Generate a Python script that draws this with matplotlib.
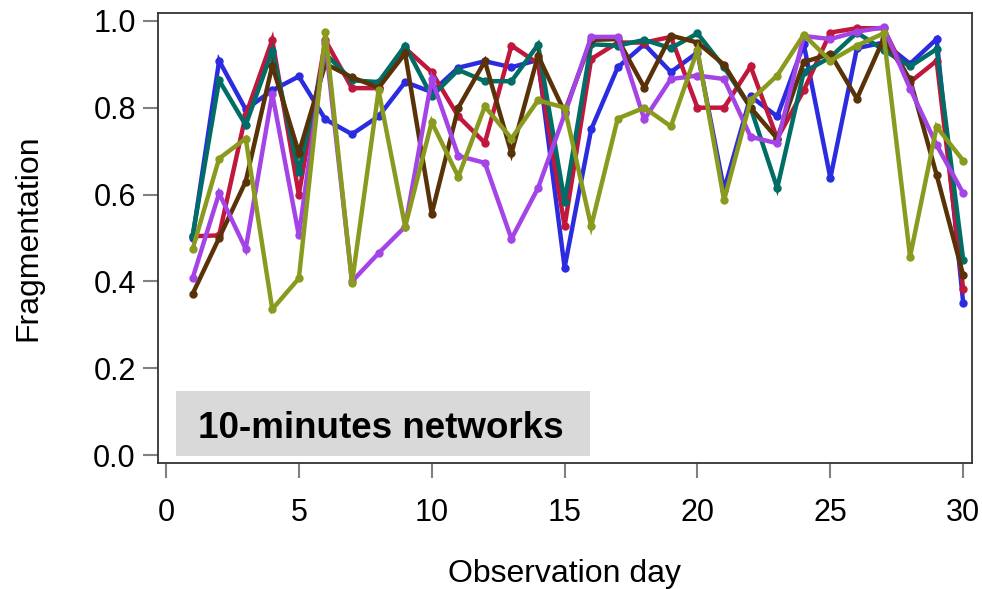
import numpy as np
import matplotlib.pyplot as plt
from matplotlib.patches import Rectangle

plt.rcParams['font.family'] = ['Liberation Sans', 'DejaVu Sans']

days = np.arange(1, 31)

# fragmentation per observation day, one list per network
blue = [0.50, 0.908, 0.796, 0.840, 0.872, 0.773, 0.739, 0.780, 0.859, 0.836,
        0.892, 0.907, 0.893, 0.910, 0.432, 0.750, 0.893, 0.946, 0.882, 0.927,
        0.611, 0.826, 0.780, 0.946, 0.638, 0.937, 0.950, 0.901, 0.958, 0.350]
red = [0.504, 0.506, 0.783, 0.956, 0.600, 0.955, 0.845, 0.845, 0.937, 0.882,
       0.780, 0.719, 0.943, 0.902, 0.527, 0.912, 0.950, 0.950, 0.963, 0.800,
       0.800, 0.895, 0.729, 0.840, 0.973, 0.983, 0.983, 0.859, 0.908, 0.382]
teal = [0.504, 0.863, 0.760, 0.931, 0.653, 0.924, 0.863, 0.859, 0.943, 0.826,
        0.887, 0.861, 0.861, 0.945, 0.584, 0.946, 0.943, 0.956, 0.937, 0.971,
        0.893, 0.800, 0.615, 0.882, 0.916, 0.973, 0.933, 0.895, 0.935, 0.449]
brown = [0.371, 0.500, 0.630, 0.897, 0.696, 0.901, 0.870, 0.846, 0.925, 0.556,
         0.800, 0.907, 0.695, 0.920, 0.790, 0.956, 0.958, 0.846, 0.966, 0.950,
         0.899, 0.800, 0.729, 0.905, 0.924, 0.821, 0.958, 0.865, 0.645, 0.414]
purple = [0.407, 0.603, 0.475, 0.832, 0.506, 0.950, 0.400, 0.465, 0.526, 0.866,
          0.689, 0.673, 0.498, 0.615, 0.785, 0.963, 0.963, 0.773, 0.866, 0.874,
          0.866, 0.733, 0.718, 0.965, 0.958, 0.975, 0.985, 0.844, 0.714, 0.603]
olive = [0.474, 0.683, 0.729, 0.336, 0.407, 0.975, 0.397, 0.840, 0.526, 0.767,
         0.641, 0.803, 0.729, 0.817, 0.800, 0.527, 0.775, 0.800, 0.757, 0.933,
         0.587, 0.817, 0.874, 0.968, 0.908, 0.943, 0.971, 0.457, 0.756, 0.678]

series = [blue, red, teal, brown, purple, olive]
colors = ['#2b2be0', '#c0173c', '#006d66', '#5a3208', '#a444e6', '#8a9a1e']

fig = plt.figure(figsize=(9.82, 5.89), dpi=100)
ax = fig.add_axes([158/982, 1 - 463/589, 814/982, 450/589])

for vals, c in zip(series, colors):
    ax.plot(days, vals, color=c, lw=3.2, marker='o', ms=5,
            solid_joinstyle='miter', solid_capstyle='butt')

ax.set_xlim(-0.3, 30.33)
ax.set_ylim(-0.018, 1.018)
ax.set_xticks([0, 5, 10, 15, 20, 25, 30])
ax.set_yticks([0.0, 0.2, 0.4, 0.6, 0.8, 1.0])
ax.set_yticklabels(['0.0', '0.2', '0.4', '0.6', '0.8', '1.0'])
ax.tick_params(labelsize=22, length=11, width=1.5, color='#808080')
ax.tick_params(axis='x', pad=14)
ax.tick_params(axis='y', pad=5)
for s in ax.spines.values():
    s.set_linewidth(1.3)
    s.set_color('#333333')

ax.set_xlabel('Observation day', fontsize=23)
ax.set_ylabel('Fragmentation', fontsize=23)
ax.xaxis.set_label_coords(0.5, -0.213)
ax.yaxis.set_label_coords(-0.141, 0.5)

# label box
ax.add_patch(Rectangle((0.022, 0.0156), 0.509, 0.144, transform=ax.transAxes,
                       facecolor='#d9d9d9', edgecolor='none', zorder=5))
ax.text(0.274, 0.0556, '10-minutes networks', transform=ax.transAxes,
        ha='center', va='baseline', fontsize=26.5, fontweight='bold', zorder=6)

fig.savefig('out.png', dpi=100)
